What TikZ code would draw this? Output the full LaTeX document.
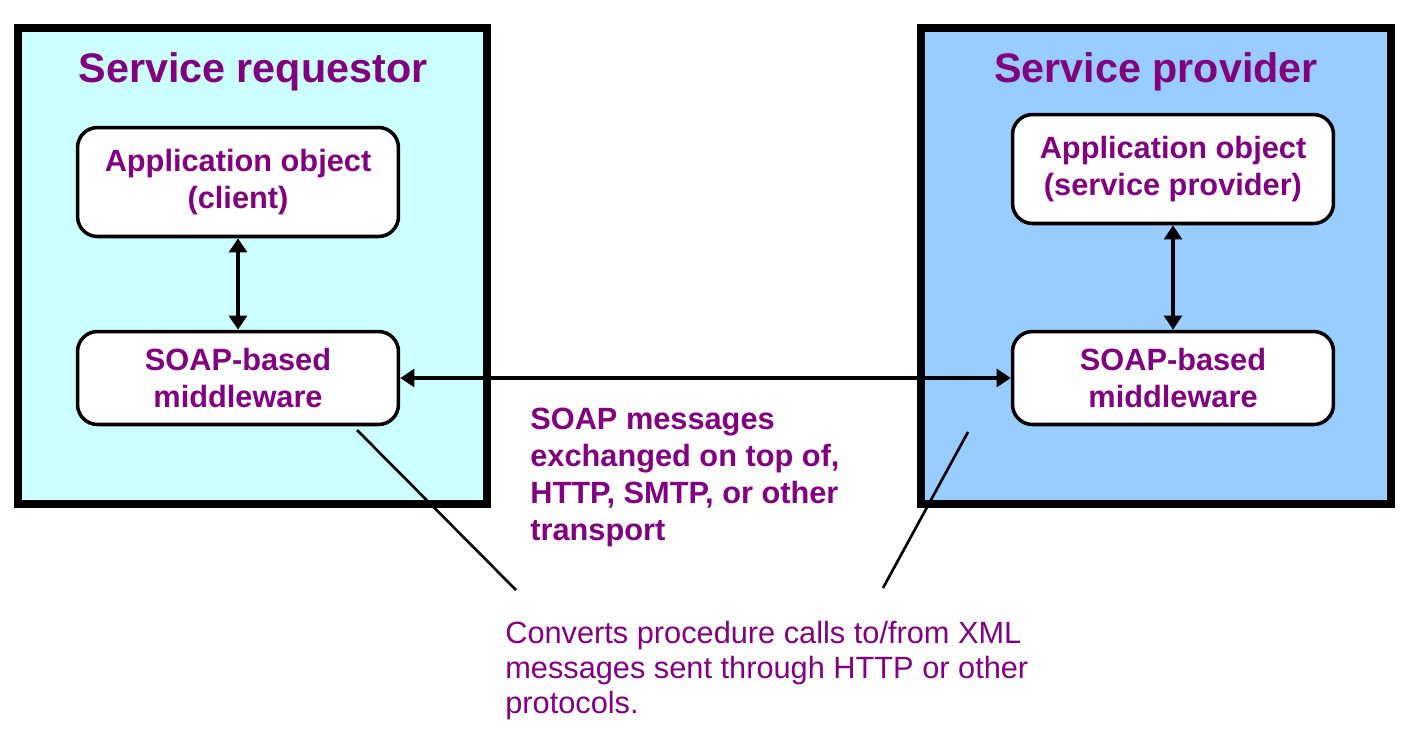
\documentclass[tikz,border=0pt]{standalone}
\usepackage{fontspec}
\setmainfont{Liberation Sans}
\usetikzlibrary{arrows.meta}

\definecolor{reqcyan}{HTML}{CCFFFF}
\definecolor{provblue}{HTML}{99CCFF}
\definecolor{txtpurple}{HTML}{800080}

\begin{document}
\begin{tikzpicture}[x=0.02cm,y=-0.02cm,
  sidebox/.style={draw=black,line width=4pt},
  sidetitle/.style={anchor=base,text=txtpurple,font=\fontsize{23.5}{28}\selectfont\bfseries},
  objbox/.style={draw=black,fill=white,line width=2pt,rounded corners=0.4cm,
                 minimum width=6.42cm,align=center,text=txtpurple,
                 font=\fontsize{17.5}{21.5}\selectfont\bfseries},
  biarrow/.style={line width=2.2pt,{Triangle[length=8pt,width=10pt]}-{Triangle[length=8pt,width=10pt]}},
  callout/.style={line width=1.5pt},
  notetext/.style={anchor=base west,align=left,inner sep=0pt,text=txtpurple}]
\useasboundingbox (0,0) rectangle (1407,731);
% the two sides
\draw[sidebox,fill=reqcyan] (18,28) rectangle (487,504);
\draw[sidebox,fill=provblue] (921,28) rectangle (1391,504);
\node[sidetitle] (reqtitle) at (253,82) {Service requestor};
\node[sidetitle] (provtitle) at (1156,82) {Service provider};
% objects
\node[objbox,minimum height=2.18cm] (lapp) at (238,182) {Application object\\(client)};
\node[objbox,minimum height=1.86cm] (lsoap) at (238,378) {SOAP-based\\middleware};
\node[objbox,minimum height=2.18cm] (rapp) at (1173,169) {Application object\\(service provider)};
\node[objbox,minimum height=1.86cm] (rsoap) at (1173,378) {SOAP-based\\middleware};
\draw[biarrow] (lapp) -- (lsoap);
\draw[biarrow] (rapp) -- (rsoap);
\draw[biarrow] (lsoap) -- (rsoap);
% notes (anchored at the last line)
\node[notetext,font=\fontsize{17.5}{21}\selectfont\bfseries] (msgnote) at (530,540)
  {SOAP messages\\exchanged on top of,\\HTTP, SMTP, or other\\transport};
\node[notetext,font=\fontsize{17.5}{19.8}\selectfont] (convnote) at (505,713)
  {Converts procedure calls to/from XML\\messages sent through HTTP or other\\protocols.};
\coordinate (lcall) at (357,430);
\coordinate (lcallend) at (516,590);
\coordinate (rcall) at (968,432);
\coordinate (rcallend) at (883,588);
\draw[callout] (lcall) -- (lcallend);
\draw[callout] (rcall) -- (rcallend);
\end{tikzpicture}
\end{document}
